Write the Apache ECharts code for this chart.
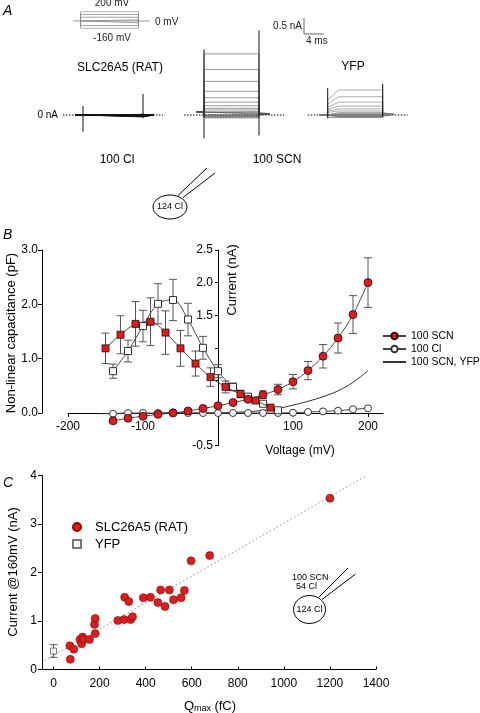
<!DOCTYPE html>
<html><head><meta charset="utf-8">
<script src="https://cdn.jsdelivr.net/npm/echarts@6/dist/echarts.min.js"></script>
<style>html,body{margin:0;padding:0;background:#fff}#c{width:480px;height:713px}</style>
</head><body><div id="c"></div>
<script>
// ---------------- Panel A data ----------------
const protocolSteps = [-160, -100, -40, 20, 80, 140, 200]; // mV
const clLevels  = [0.02, 0.01, 0.0, -0.01, -0.02, -0.03, -0.04, -0.05, -0.06]; // nA
const scnLevels = [1.91, 1.42, 1.05, 0.74, 0.54, 0.40, 0.29, 0.21, 0.16, 0.11, 0.08, 0.05, 0.03, 0.01, -0.01, -0.03, -0.05, -0.07, -0.09];
const yfpLevels = [0.78, 0.57, 0.40, 0.28, 0.19, 0.125, 0.08, 0.05, 0.03, 0.015, 0.0, -0.01, -0.02, -0.03, -0.04, -0.05, -0.06, -0.07, -0.08];
const yfpOnsets = [0.47, 0.34, 0.24, 0.17, 0.12, 0.08, 0.05, 0.03, 0.02, 0.01, 0.0, -0.01, -0.02, -0.03, -0.04, -0.05, -0.06, -0.07, -0.08];
const clSpikes  = {start: [-0.52, 0.28], end: [-0.10, 0.66], pre: 0.0, post: 0.0, T: 12};
const scnSpikes = {start: [-0.73, 2.05], end: [-0.64, 2.64], pre: 0.09, post: 0.04, T: 11};
const yfpSpikes = {start: [-0.10, 0.84], end: [-0.06, 0.97], pre: 0.0, post: 0.02, T: 11};

// ---------------- Panel B data ----------------
const ivVolt   = [-140,-120,-100,-80,-60,-40,-20,0,20,40,60,80,100,120,140,160,180,200];
const ivScn    = [-0.12,-0.08,-0.05,-0.02,0.0,0.03,0.07,0.11,0.16,0.21,0.28,0.36,0.48,0.65,0.87,1.15,1.51,2.0];
const ivScnErr = [0.01,0.01,0.01,0.01,0.01,0.01,0.01,0.02,0.02,0.03,0.06,0.08,0.11,0.14,0.18,0.23,0.29,0.38];
const ivCl     = [-0.01,0.0,0.0,0.0,0.01,0.0,0.0,0.0,0.0,0.0,0.0,0.0,0.005,0.015,0.025,0.035,0.057,0.072];
const yfpVolt  = [-160,-140,-100,-60,-20,0,20,40,60,80,100,120,140,160,180,200];
const yfpCurr  = [-0.01,-0.01,-0.01,0.0,0.0,0.0,0.01,0.02,0.04,0.07,0.12,0.18,0.25,0.34,0.47,0.65];
const nlcScnV   = [-150,-130,-110,-90,-70,-50,-30,-10,10,30,50,70];
const nlcScnC   = [1.19,1.44,1.64,1.68,1.48,1.19,0.91,0.66,0.48,0.35,0.23,0.10];
const nlcScnErr = [0.28,0.35,0.41,0.44,0.40,0.33,0.23,0.17,0.11,0.07,0.05,0.03];
const nlcClV    = [-140,-120,-100,-80,-60,-40,-20,0,20,40,60,80];
const nlcClC    = [0.77,1.14,1.60,2.01,2.08,1.72,1.20,0.77,0.48,0.30,0.17,0.05];
const nlcClErr  = [0.13,0.20,0.29,0.37,0.38,0.30,0.21,0.12,0.07,0.05,0.03,0.02];
const xTicksB = [-200,-100,100,200];
const currentTickLabels = [2.5, 2.0, 1.5, -0.5];

// ---------------- Panel C data ----------------
const qmax = [73,71,88,115,126,122,131,156,181,178,181,279,306,335,343,309,327,390,421,453,465,484,503,521,554,568,597,678,1200];
const i160 = [0.21,0.49,0.42,0.62,0.67,0.53,0.62,0.62,0.74,0.93,1.05,1.01,1.03,1.03,1.09,1.49,1.40,1.48,1.49,1.38,1.64,1.30,1.64,1.44,1.48,1.63,2.24,2.35,3.53];
const yfpQ = [0], yfpI = [0.38], yfpIErr = [0.13];
const fitX = [-40, 1360], fitY = [0.18, 4.0];

// ---------------- helpers ----------------
const FF = '"Liberation Sans", Arial, sans-serif';
const RED = '#d42020';
const SQUARE = 'path://M0,0H10V10H0Z';
function zip(a,b){return a.map((v,i)=>[v,b[i]]);}
function errSeries(xs, ys, es, xi, yi, color){
  return {type:'custom', xAxisIndex:xi, yAxisIndex:yi, silent:true, z:1, clip:false,
    data: xs.map((x,i)=>[x, ys[i], es[i]]),
    renderItem:(p, api)=>{
      const x=api.value(0), y=api.value(1), e=api.value(2);
      const hi=api.coord([x,y+e]), lo=api.coord([x,y-e]); const w=4;
      const st={stroke:color||'#555', lineWidth:1};
      return {type:'group', children:[
        {type:'line', shape:{x1:hi[0],y1:hi[1],x2:lo[0],y2:lo[1]}, style:st},
        {type:'line', shape:{x1:hi[0]-w,y1:hi[1],x2:hi[0]+w,y2:hi[1]}, style:st},
        {type:'line', shape:{x1:lo[0]-w,y1:lo[1],x2:lo[0]+w,y2:lo[1]}, style:st}]};
    }};
}
function traces(gi, levels, sp, color, width, onsets){
  const out=[];
  out.push({type:'line', xAxisIndex:gi, yAxisIndex:gi, symbol:'none', silent:true, z:1,
    data:[[-4,0],[16,0]], lineStyle:{color:'#000', width:1.2, type:[1.5,1.5]}});
  levels.forEach((lv,i)=>{
    const d=[[-1.6,sp.pre],[0,sp.pre]];
    if(onsets){d.push([0,onsets[i]],[2.2,lv]);} else {d.push([0,lv]);}
    d.push([sp.T,lv],[sp.T,sp.post],[sp.T+2.2,sp.post]);
    out.push({type:'line', xAxisIndex:gi, yAxisIndex:gi, symbol:'none', silent:true, z:2,
      data:d, lineStyle:{color, width}});
  });
  out.push({type:'line', xAxisIndex:gi, yAxisIndex:gi, symbol:'none', silent:true, z:3,
    data:[[0,sp.start[0]],[0,sp.start[1]]], lineStyle:{color:'#111', width:1}});
  out.push({type:'line', xAxisIndex:gi, yAxisIndex:gi, symbol:'none', silent:true, z:3,
    data:[[sp.T,sp.end[0]],[sp.T,sp.end[1]]], lineStyle:{color:'#111', width:1}});
  return out;
}
const hidden = {show:false};
const lab = {color:'#000', fontSize:12, fontFamily:FF};

const protoSeries = [{type:'line', xAxisIndex:0, yAxisIndex:0, symbol:'none', silent:true,
  data:[[-1.5,0],[13.8,0]], lineStyle:{color:'#888', width:0.8}}]
  .concat(protocolSteps.map(v=>({type:'line', xAxisIndex:0, yAxisIndex:0, symbol:'none', silent:true,
    data:[[0,0],[0,v],[11.5,v],[11.5,0]], lineStyle:{color:'#888', width:0.8}})));

const option = {
  animation:false,
  textStyle:{fontFamily:FF},
  grid:[
    {left:73, top:11.7, width:77, height:16.6},            // 0 protocol
    {left:63, top:19, width:100, height:128},              // 1 Cl traces
    {left:184, top:19, width:100, height:128},             // 2 SCN traces
    {left:307.7, top:19, width:100, height:128},           // 3 YFP traces
    {left:68, top:250, width:315, height:195.6},           // 4 B plotting area
    {left:42, top:250, width:10, height:163},              // 5 B capacitance axis
    {left:42, top:475.5, width:334, height:194},           // 6 C main
    {left:53.5, top:475.5, width:322.5, height:194},       // 7 C x labels
    {left:218, top:250, width:10, height:195.6},           // 8 B current axis
    {left:68, top:250, width:315, height:163}              // 9 B voltage axis
  ],
  xAxis:[
    {gridIndex:0, type:'value', min:-1.5, max:13.8, show:false},
    {gridIndex:1, type:'value', min:-4, max:16, show:false},
    {gridIndex:2, type:'value', min:-4, max:16, show:false},
    {gridIndex:3, type:'value', min:-4, max:16, show:false},
    {gridIndex:4, type:'value', min:-200, max:220, show:false},
    {gridIndex:5, type:'value', min:0, max:1, show:false},
    {gridIndex:6, type:'value', min:-50, max:1400, splitLine:hidden,
      axisLine:{show:true, onZero:false, lineStyle:{color:'#000'}}, axisTick:hidden, axisLabel:hidden},
    {gridIndex:7, type:'value', min:0, max:1400, interval:200, splitLine:hidden,
      axisLine:{show:false}, axisTick:{show:true, inside:true, length:3, lineStyle:{color:'#000'}},
      axisLabel:Object.assign({margin:8, formatter:v=>String(v)}, lab)},
    {gridIndex:8, type:'value', min:0, max:1, show:false},
    {gridIndex:9, type:'value', min:-200, max:220, interval:100, splitLine:hidden, position:'bottom',
      axisLine:{show:true, onZero:false, lineStyle:{color:'#000'}},
      axisTick:{show:true, length:4, lineStyle:{color:'#000'}},
      axisLabel:Object.assign({margin:8, showMaxLabel:false, formatter:v=>xTicksB.includes(v)?String(v):''}, lab)}
  ],
  yAxis:[
    {gridIndex:0, type:'value', min:-160, max:200, show:false},
    {gridIndex:1, type:'value', min:-1, max:3, show:false},
    {gridIndex:2, type:'value', min:-1, max:3, show:false},
    {gridIndex:3, type:'value', min:-1, max:3, show:false},
    {gridIndex:4, type:'value', min:-0.5, max:2.5, show:false},
    {gridIndex:4, type:'value', min:-0.6, max:3.0, show:false},
    {gridIndex:5, type:'value', min:0, max:3, interval:1, splitLine:hidden,
      axisLine:{show:true, onZero:false, lineStyle:{color:'#000'}},
      axisTick:{show:true, length:4, lineStyle:{color:'#000'}},
      axisLabel:Object.assign({margin:4, formatter:v=>v.toFixed(1)}, lab)},
    {gridIndex:6, type:'value', min:0, max:4, interval:1, splitLine:hidden,
      axisLine:{show:true, onZero:false, lineStyle:{color:'#000'}},
      axisTick:{show:true, length:4, lineStyle:{color:'#000'}},
      axisLabel:Object.assign({margin:5}, lab)},
    {gridIndex:7, type:'value', min:0, max:4, show:false},
    {gridIndex:8, type:'value', min:-0.5, max:2.5, interval:0.5, splitLine:hidden, position:'left',
      axisLine:{show:true, onZero:false, lineStyle:{color:'#000'}},
      axisTick:{show:true, length:3, lineStyle:{color:'#000'}},
      axisLabel:Object.assign({margin:5, formatter:v=>currentTickLabels.includes(v)?v.toFixed(1):''}, lab)},
    {gridIndex:9, type:'value', min:0, max:1, show:false}
  ],
  legend:[
    {data:['100 SCN','100 Cl','100 SCN, YFP'], orient:'vertical', left:377, top:325,
      itemWidth:23, itemHeight:8, itemGap:1, selectedMode:false,
      textStyle:{fontSize:10.5, lineHeight:12, color:'#000', fontFamily:FF}},
    {data:['SLC26A5 (RAT)','YFP'], orient:'vertical', left:67, top:515,
      itemWidth:26, itemHeight:8, itemGap:3, selectedMode:false,
      textStyle:{fontSize:13, lineHeight:14, color:'#000', fontFamily:FF}}
  ],
  series: [].concat(
    protoSeries,
    traces(1, clLevels, clSpikes, '#111', 1.0),
    traces(2, scnLevels, scnSpikes, '#555', 0.6),
    traces(3, yfpLevels, yfpSpikes, '#777', 0.6, yfpOnsets),
    [
      errSeries(nlcScnV, nlcScnC, nlcScnErr, 4, 5),
      errSeries(nlcClV, nlcClC, nlcClErr, 4, 5),
      errSeries(ivVolt, ivScn, ivScnErr, 4, 4),
      {name:'100 SCN, YFP', type:'line', xAxisIndex:4, yAxisIndex:4, symbol:'none', smooth:0.4,
        data:zip(yfpVolt, yfpCurr), lineStyle:{color:'#333', width:1}, itemStyle:{color:'rgba(0,0,0,0)', borderWidth:0}, z:2},
      {name:'100 Cl', type:'line', xAxisIndex:4, yAxisIndex:4, symbol:'circle', symbolSize:7, smooth:0.3,
        data:zip(ivVolt, ivCl), lineStyle:{color:'#444', width:1},
        itemStyle:{color:'#fff', borderColor:'#333', borderWidth:1}, z:3},
      {name:'nlcCl', type:'line', xAxisIndex:4, yAxisIndex:5, symbol:'rect', symbolSize:7, smooth:0.35,
        data:zip(nlcClV, nlcClC), lineStyle:{color:'#444', width:1},
        itemStyle:{color:'#fff', borderColor:'#333', borderWidth:1}, z:4},
      {name:'nlcScn', type:'line', xAxisIndex:4, yAxisIndex:5, symbol:'rect', symbolSize:7, smooth:0.35,
        data:zip(nlcScnV, nlcScnC), lineStyle:{color:'#444', width:1},
        itemStyle:{color:RED, borderColor:'#3a0000', borderWidth:0.8}, z:5},
      {name:'100 SCN', type:'line', xAxisIndex:4, yAxisIndex:4, symbol:'circle', symbolSize:8, smooth:0.35,
        data:zip(ivVolt, ivScn), lineStyle:{color:'#444', width:1},
        itemStyle:{color:RED, borderColor:'#3a0000', borderWidth:0.8}, z:6},
      // Panel C
      {name:'fit', type:'line', xAxisIndex:6, yAxisIndex:7, symbol:'none', silent:true,
        data:zip(fitX, fitY), lineStyle:{color:'#888', width:1, type:[1.5,2.5]}, z:1},
      errSeries(yfpQ, yfpI, yfpIErr, 6, 7, '#555'),
      {name:'YFP', type:'scatter', xAxisIndex:6, yAxisIndex:7, symbol:SQUARE, symbolSize:6, symbolKeepAspect:true,
        data:zip(yfpQ, yfpI), itemStyle:{color:'#fff', borderColor:'#555', borderWidth:1}, z:3},
      {name:'SLC26A5 (RAT)', type:'scatter', xAxisIndex:6, yAxisIndex:7, symbol:'circle', symbolSize:8,
        data:zip(qmax, i160), itemStyle:{color:RED, borderColor:'#9a0000', borderWidth:0.6, opacity:1}, z:4}
    ]
  ),
  graphic:[
    // Panel A texts
    {type:'text', x:3, y:4, style:{text:'A', fontSize:14, fontStyle:'italic', fontFamily:FF, fill:'#000'}},
    {type:'text', x:112, y:3, style:{text:'200 mV', fontSize:10, fontFamily:FF, fill:'#222', align:'center', verticalAlign:'middle'}},
    {type:'text', x:155, y:22, style:{text:'0 mV', fontSize:10, fontFamily:FF, fill:'#222', align:'left', verticalAlign:'middle'}},
    {type:'text', x:112, y:38, style:{text:'-160 mV', fontSize:10, fontFamily:FF, fill:'#222', align:'center', verticalAlign:'middle'}},
    {type:'text', x:120, y:68, style:{text:'SLC26A5 (RAT)', fontSize:12, fontFamily:FF, fill:'#000', align:'center', verticalAlign:'middle'}},
    {type:'text', x:353, y:67, style:{text:'YFP', fontSize:12, fontFamily:FF, fill:'#000', align:'center', verticalAlign:'middle'}},
    {type:'text', x:58, y:115, style:{text:'0 nA', fontSize:10, fontFamily:FF, fill:'#000', align:'right', verticalAlign:'middle'}},
    {type:'text', x:117, y:160, style:{text:'100 Cl', fontSize:12, fontFamily:FF, fill:'#000', align:'center', verticalAlign:'middle'}},
    {type:'text', x:277, y:160, style:{text:'100 SCN', fontSize:12, fontFamily:FF, fill:'#000', align:'center', verticalAlign:'middle'}},
    {type:'polyline', shape:{points:[[304,18],[304,34],[324,34]]}, style:{stroke:'#666', fill:null, lineWidth:1}},
    {type:'text', x:302, y:26, style:{text:'0.5 nA', fontSize:10, fontFamily:FF, fill:'#222', align:'right', verticalAlign:'middle'}},
    {type:'text', x:306, y:41, style:{text:'4 ms', fontSize:10, fontFamily:FF, fill:'#222', align:'left', verticalAlign:'middle'}},
    {type:'ellipse', shape:{cx:170, cy:207, rx:17, ry:12}, style:{stroke:'#000', fill:'#fff', lineWidth:1}},
    {type:'text', x:170, y:207, style:{text:'124 Cl', fontSize:9, fontFamily:FF, fill:'#000', align:'center', verticalAlign:'middle'}},
    {type:'line', shape:{x1:178, y1:195.5, x2:207, y2:168}, style:{stroke:'#000', lineWidth:1}},
    {type:'line', shape:{x1:183, y1:197.5, x2:215, y2:173}, style:{stroke:'#000', lineWidth:1}},
    // Panel B texts
    {type:'text', x:3, y:228, style:{text:'B', fontSize:14, fontStyle:'italic', fontFamily:FF, fill:'#000'}},
    {type:'text', x:11, y:333, rotation:Math.PI/2, style:{text:'Non-linear capacitance (pF)', fontSize:13, fontFamily:FF, fill:'#000', align:'center', verticalAlign:'middle'}},
    {type:'text', x:232, y:280, rotation:Math.PI/2, style:{text:'Current (nA)', fontSize:13, fontFamily:FF, fill:'#000', align:'center', verticalAlign:'middle'}},
    {type:'text', x:300, y:451, style:{text:'Voltage (mV)', fontSize:12, fontFamily:FF, fill:'#000', align:'center', verticalAlign:'middle'}},
    // Panel C texts
    {type:'text', x:3, y:476, style:{text:'C', fontSize:14, fontStyle:'italic', fontFamily:FF, fill:'#000'}},
    {type:'text', x:13, y:572, rotation:Math.PI/2, style:{text:'Current @160mV (nA)', fontSize:13, fontFamily:FF, fill:'#000', align:'center', verticalAlign:'middle'}},
    {type:'text', x:210, y:706, style:{text:'{q|Q}{s|max} {q|(fC)}', align:'center', verticalAlign:'middle',
      rich:{q:{fontSize:13, fontFamily:FF, fill:'#000'}, s:{fontSize:9, fontFamily:FF, fill:'#000', padding:[6,0,0,0]}}}},
    {type:'text', x:292, y:578, style:{text:'100 SCN', fontSize:9, fontFamily:FF, fill:'#000', align:'left', verticalAlign:'middle'}},
    {type:'text', x:296, y:587, style:{text:'54 Cl', fontSize:9, fontFamily:FF, fill:'#000', align:'left', verticalAlign:'middle'}},
    {type:'ellipse', shape:{cx:309.5, cy:609.5, rx:16, ry:14}, style:{stroke:'#000', fill:'#fff', lineWidth:1}},
    {type:'text', x:309.5, y:609.5, style:{text:'124 Cl', fontSize:9, fontFamily:FF, fill:'#000', align:'center', verticalAlign:'middle'}},
    {type:'line', shape:{x1:319, y1:597, x2:348, y2:568}, style:{stroke:'#000', lineWidth:1}},
    {type:'line', shape:{x1:322, y1:599.5, x2:355.5, y2:574}, style:{stroke:'#000', lineWidth:1}}
  ]
};
const chart = echarts.init(document.getElementById('c'), null, {renderer:'canvas'});
chart.setOption(option);
</script>
</body></html>
